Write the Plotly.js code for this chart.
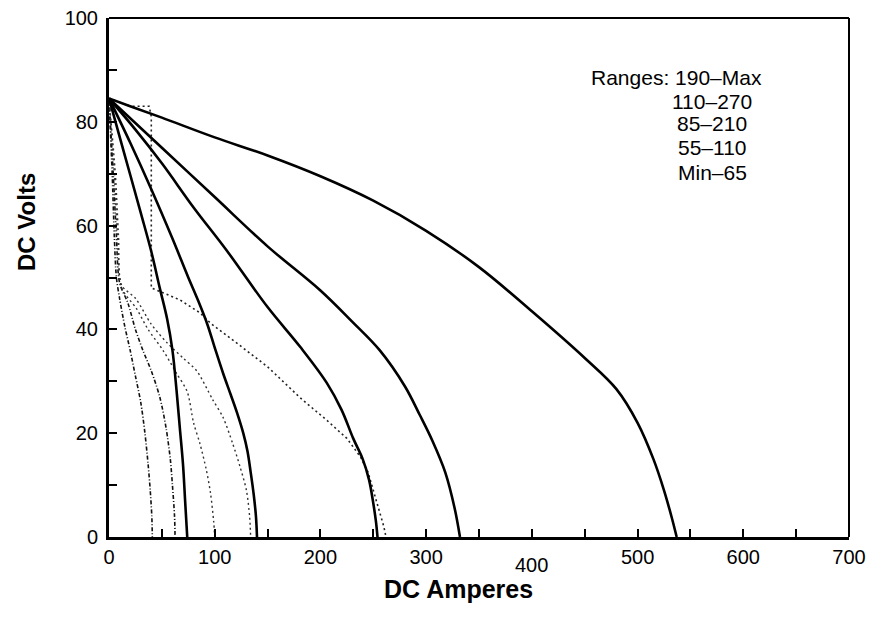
<!DOCTYPE html>
<html>
<head>
<meta charset="utf-8">
<script src="https://cdn.plot.ly/plotly-3.0.1.min.js"></script>
<style>html,body{margin:0;padding:0;background:#fff;}#chart{width:870px;height:622px;}</style>
</head>
<body>
<div id="chart"></div>
<script>
// ---- Data ----
// Solid curves (DC Amperes vs DC Volts)
const solid1X = [0, 15, 30, 40, 48, 55, 60, 64, 67, 70, 72, 74];
const solid1Y = [84.5, 73.5, 62.5, 55, 48, 42, 36, 28, 21, 14, 7, 0];
const solid2X = [0, 20, 40, 60, 75, 84, 93, 100, 108, 115, 121, 127, 131, 134, 137, 139, 140];
const solid2Y = [84.5, 76, 67, 57.5, 50, 45.7, 41, 36.5, 31.5, 27.5, 24, 20, 16.5, 12.5, 8, 4, 0];
const solid3X = [0, 25, 50, 80, 111, 150, 181, 206, 220, 231, 240, 246, 250, 252.5, 254];
const solid3Y = [84.5, 78.5, 72, 63.5, 55.3, 44.3, 36.6, 29.7, 24.5, 19, 15, 11, 6.5, 3, 0];
const solid4X = [0, 50, 100, 150, 200, 230, 256, 280, 294, 306, 318, 327, 332];
const solid4Y = [84.5, 75, 65.5, 56, 47.5, 41.5, 36, 29, 23.5, 18.5, 12.5, 5.5, 0];
const solid5X = [0, 20, 50, 100, 150, 200, 250, 300, 350, 400, 450, 480, 500, 515, 525, 532, 537];
const solid5Y = [84.5, 83, 80.8, 77, 73.5, 69.5, 64.8, 59, 52, 43.5, 34.5, 28.5, 22, 15, 9, 4, 0];

// Dotted / dash-dot curves
const dot1X = [0, 3, 5, 7, 10, 15, 20, 25, 30, 34, 37, 39, 40.5, 41];
const dot1Y = [84.5, 70, 58, 50, 46, 40.5, 36, 31, 26, 20, 14, 9, 4, 0];
const dot2X = [0, 4, 7, 10, 18, 25, 32, 40, 48, 54, 58, 60, 62, 62.5];
const dot2Y = [84.5, 70, 58, 49, 45, 40, 36, 32, 27, 21, 15, 10, 4, 0];
const dot3X = [0, 5, 8, 12, 26, 37, 51, 64, 74, 80, 86, 92, 96, 99, 100];
const dot3Y = [84.5, 70, 58, 48, 44, 40, 36, 31.5, 28, 22, 18, 13, 8.5, 3, 0];
const dot4X = [0, 6, 9, 12, 25, 40, 55, 70, 83, 98, 108, 117, 124, 130, 133, 134];
const dot4Y = [84.5, 70, 58, 48.5, 46, 41, 37.4, 34.5, 32, 26.5, 23, 18, 13.5, 9, 4, 0];
const dot5X = [0, 20, 38, 40, 40, 46, 67, 86, 96, 120, 150, 181, 206, 225, 238, 245, 250, 256, 260, 262];
const dot5Y = [84.5, 83, 83, 81, 48, 47.5, 45.7, 43.2, 41.2, 37.5, 32.8, 26.8, 22.5, 19, 15.4, 12.5, 9.1, 5, 2, 0];

// Axis ticks and labels
const xTickVals = [0, 50, 100, 150, 200, 250, 300, 350, 400, 450, 500, 550, 600, 650, 700];
const xTickLabels = ['0', '', '100', '', '200', '', '300', '', '400', '', '500', '', '600', '', '700'];
const yTickVals = [0, 10, 20, 30, 40, 50, 60, 70, 80, 90, 100];
const yTickLabels = ['0', '', '20', '', '40', '', '60', '', '80', '', '100'];
const rangeLabels = ['Ranges: 190\u2013Max', '110\u2013270', '85\u2013210', '55\u2013110', 'Min\u201365'];
const xOffsetLabel = '400';
const xTitle = 'DC Amperes';
const yTitle = 'DC Volts';

// ---- Traces ----
const FONT = 'Liberation Sans, Arial, sans-serif';
function solid(x, y) { return {x: x, y: y, mode: 'lines', line: {color: '#000', width: 2.6, shape: 'spline', smoothing: 1}, hoverinfo: 'skip'}; }
function dotted(x, y, dash, width, color) { return {x: x, y: y, mode: 'lines', line: {color: color, width: width, dash: dash, shape: 'spline', smoothing: 0.8}, hoverinfo: 'skip'}; }

const traces = [
  dotted(dot1X, dot1Y, '4px,2px,1px,2px', 1.6, '#111'),
  dotted(dot2X, dot2Y, '4px,2px,1px,2px', 1.6, '#111'),
  dotted(dot3X, dot3Y, '2px,3px', 1.4, '#333'),
  dotted(dot4X, dot4Y, '2px,3px', 1.4, '#333'),
  {x: dot5X, y: dot5Y, mode: 'lines', line: {color: '#222', width: 1.6, dash: '2px,3px'}, hoverinfo: 'skip'},
  solid(solid1X, solid1Y),
  solid(solid2X, solid2Y),
  solid(solid3X, solid3Y),
  solid(solid4X, solid4Y),
  solid(solid5X, solid5Y)
];

// the 400 label sits lower than the other x tick labels in the reference
const xShownLabels = xTickLabels.map(t => t === xOffsetLabel ? '' : t);

// pixel helpers for paper coordinates (plot area 109..849 x 18..537)
const px = v => (v - 109) / 740;
const py = v => (537 - v) / 519;

const annotations = [];
const rangeYs = [77, 101, 124, 148, 172];
rangeLabels.forEach((t, i) => {
  annotations.push({
    xref: 'paper', yref: 'paper',
    x: i === 0 ? px(676) : px(712),
    y: py(rangeYs[i]),
    text: t, showarrow: false, xanchor: 'center', yanchor: 'middle',
    font: {family: FONT, size: 21, color: '#000'}
  });
});
annotations.push({
  x: Number(xOffsetLabel), y: py(565), xref: 'x', yref: 'paper',
  text: xOffsetLabel, showarrow: false, xanchor: 'center', yanchor: 'middle',
  font: {family: FONT, size: 20, color: '#000'}
});
annotations.push({
  xref: 'paper', yref: 'paper', x: px(458), y: py(589), text: '<b>' + xTitle + '</b>',
  showarrow: false, xanchor: 'center', yanchor: 'middle', font: {family: FONT, size: 25, color: '#000'}
});
annotations.push({
  xref: 'paper', yref: 'paper', x: px(26), y: py(222), text: '<b>' + yTitle + '</b>', textangle: -90,
  showarrow: false, xanchor: 'center', yanchor: 'middle', font: {family: FONT, size: 24, color: '#000'}
});

const layout = {
  width: 870, height: 622,
  margin: {l: 109, r: 21, t: 18, b: 85, pad: 0},
  paper_bgcolor: '#fff', plot_bgcolor: '#fff',
  showlegend: false,
  font: {family: FONT, size: 20, color: '#000'},
  xaxis: {
    range: [0, 700], tickmode: 'array', tickvals: xTickVals, ticktext: xShownLabels,
    ticks: 'inside', ticklen: 8, tickwidth: 2, tickcolor: '#000',
    showline: true, linewidth: 3, linecolor: '#000', showgrid: false, zeroline: false,
    tickfont: {size: 20}
  },
  yaxis: {
    range: [0, 100], tickmode: 'array', tickvals: yTickVals, ticktext: yTickLabels,
    ticks: 'inside', ticklen: 8, tickwidth: 2, tickcolor: '#000',
    showline: true, linewidth: 3, linecolor: '#000', showgrid: false, zeroline: false,
    tickfont: {size: 20}, ticklabelstandoff: 4
  },
  shapes: [
    {type: 'line', xref: 'paper', yref: 'paper', x0: 0, x1: 1, y0: 1, y1: 1, line: {color: '#000', width: 2}},
    {type: 'line', xref: 'paper', yref: 'paper', x0: 1, x1: 1, y0: 0, y1: 1, line: {color: '#000', width: 2}}
  ],
  annotations: annotations
};

Plotly.newPlot('chart', traces, layout, {staticPlot: true, displayModeBar: false});
</script>
</body>
</html>
